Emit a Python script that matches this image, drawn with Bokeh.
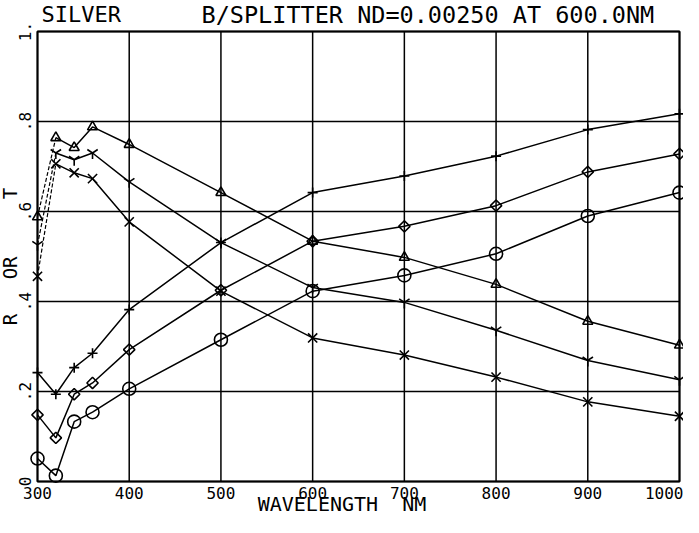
import math
from bokeh.plotting import figure
from bokeh.models import FixedTicker, Label
from bokeh.embed import file_html
from bokeh.resources import INLINE

# ---- data ----
wavelength = [300, 320, 340, 360, 400, 500, 600, 700, 800, 900, 1000]
s_plus     = [0.242, 0.194, 0.253, 0.285, 0.382, 0.531, 0.642, 0.679, 0.723, 0.782, 0.817]
s_diamond  = [0.148, 0.097, 0.194, 0.219, 0.293, 0.425, 0.534, 0.567, 0.613, 0.688, 0.728]
s_circle   = [0.051, 0.013, 0.133, 0.154, 0.206, 0.315, 0.423, 0.458, 0.506, 0.590, 0.642]
s_triangle = [0.588, 0.764, 0.742, 0.788, 0.749, 0.642, 0.534, 0.498, 0.438, 0.356, 0.303]
s_y        = [0.526, 0.730, 0.715, 0.730, 0.666, 0.531, 0.431, 0.398, 0.336, 0.269, 0.226]
s_x        = [0.456, 0.706, 0.686, 0.673, 0.577, 0.423, 0.319, 0.281, 0.232, 0.177, 0.145]

x_ticks = [300, 400, 500, 600, 700, 800, 900, 1000]
x_tick_labels = ["300", "400", "500", "600", "700", "800", "900", "1000"]
y_ticks = [0, 0.2, 0.4, 0.6, 0.8, 1]
y_tick_labels = ["0", ".2", ".4", ".6", ".8", "1."]

title_left = "SILVER"
title_right = "B/SPLITTER ND=0.00250 AT 600.0NM"
x_title = "WAVELENGTH \u00a0NM"
y_title = "R \u00a0 OR \u00a0 \u00a0 T"

FONT = "DejaVu Sans Mono"

# ---- layout geometry (pixels inside the 683x517 canvas) ----
W, H = 683, 517
FL, FR, FT, FB = 37, 679, 31, 481        # where the plotting box sits
x0, x1 = x_ticks[0], x_ticks[-1]
y0, y1 = y_ticks[0], y_ticks[-1]
ax_ = (FR - FL) / (x1 - x0)
ay_ = (FB - FT) / (y1 - y0)
x_range = (x0 - FL / ax_, x1 + (W - FR) / ax_)
y_range = (y0 - (H - FB) / ay_, y1 + FT / ay_)

p = figure(width=W, height=H, x_range=x_range, y_range=y_range, title=None,
           output_backend="svg", toolbar_location=None)
p.min_border = 0
p.min_border_left = 0
p.min_border_right = 0
p.min_border_top = 0
p.min_border_bottom = 0
p.background_fill_color = "white"
p.border_fill_color = "white"
p.outline_line_color = None
p.xgrid.visible = False
p.ygrid.visible = False

for ax in (p.xaxis[0], p.yaxis[0]):
    ax.axis_line_color = None
    ax.major_tick_line_color = None
    ax.minor_tick_line_color = None
    ax.major_label_text_font = FONT
    ax.major_label_text_font_size = "16px"
    ax.major_label_text_color = "black"
    ax.axis_label_text_font = FONT
    ax.axis_label_text_font_style = "normal"
    ax.axis_label_text_color = "black"

p.xaxis.fixed_location = y0
p.xaxis.ticker = FixedTicker(ticks=x_ticks)
p.xaxis.major_label_overrides = dict(zip(x_ticks, x_tick_labels))
p.xaxis.major_tick_out = 0
p.xaxis.minor_tick_out = 0
p.xaxis.major_tick_in = 0
p.xaxis.major_label_standoff = 5
p.xaxis.axis_label = x_title
p.xaxis.axis_label_text_font_size = "20px"
p.xaxis.axis_label_standoff = -10

p.yaxis.fixed_location = x0
p.yaxis.bounds = (y0, y1)
p.yaxis.ticker = FixedTicker(ticks=y_ticks)
p.yaxis.major_label_overrides = dict(zip(y_ticks, y_tick_labels))
p.yaxis.major_label_orientation = "vertical"
p.yaxis.major_tick_out = 6
p.yaxis.major_tick_in = 0
p.yaxis.minor_tick_out = 0
p.yaxis.major_label_standoff = 1
p.yaxis.axis_label = y_title
p.yaxis.axis_label_text_font_size = "19px"
p.yaxis.axis_label_standoff = -5

# grid lines at the tick positions, and the plot box
p.segment(x0=x_ticks, y0=[y0] * len(x_ticks), x1=x_ticks, y1=[y1] * len(x_ticks),
          line_color="black", line_width=1.5)
p.segment(x0=[x0] * len(y_ticks), y0=y_ticks, x1=[x1] * len(y_ticks), y1=y_ticks,
          line_color="black", line_width=1.5)
p.quad(left=[x0], right=[x1], bottom=[y0], top=[y1], fill_color=None,
       line_color="black", line_width=2)

series = [
    (s_plus, "cross", 10, 0, False),
    (s_diamond, "square", 8, math.pi / 4, False),
    (s_circle, "circle", 13, 0, False),
    (s_triangle, "triangle", 10, 0, True),
    (s_y, "y", 12, 0, True),
    (s_x, "x", 13, 0, True),
]
for vals, marker, size, ang, dashed_start in series:
    if dashed_start:
        p.line(wavelength[:2], vals[:2], line_color="black", line_width=1.2, line_dash="4 2")
        p.line(wavelength[1:], vals[1:], line_color="black", line_width=1.5)
    else:
        p.line(wavelength, vals, line_color="black", line_width=1.5)
    p.scatter(wavelength, vals, marker=marker, size=size, angle=ang, fill_color=None,
              line_color="black", line_width=1.6)

# title line (sits just above the plot box)
ty = y1 + 17 / ay_
p.add_layout(Label(x=x0 + 4 / ax_, y=ty, text=title_left, text_font=FONT,
                   text_font_size="22px", text_color="black",
                   text_align="left", text_baseline="alphabetic"))
p.add_layout(Label(x=x0 + 164 / ax_, y=ty, text=title_right, text_font=FONT,
                   text_font_size="23.5px", text_color="black",
                   text_align="left", text_baseline="alphabetic"))

open("out.html", "w").write(file_html(p, INLINE))
